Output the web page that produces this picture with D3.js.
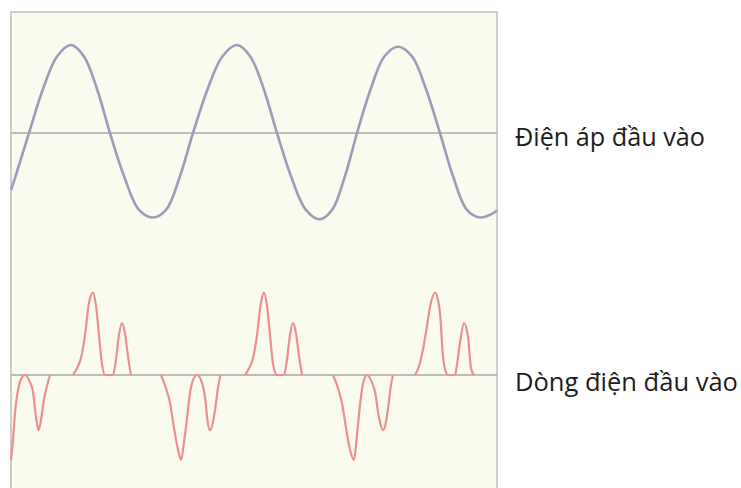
<!DOCTYPE html>
<html>
<head>
<meta charset="utf-8">
<script src="https://cdn.jsdelivr.net/npm/d3@7"></script>
<style>
  html, body { margin: 0; padding: 0; background: #ffffff; }
  svg { display: block; }
</style>
</head>
<body>
<svg id="chart" width="741" height="488"></svg>
<script>
// ---- Data (time in ms, values normalised) ----
const voltageTime = [0, 0.53, 2.22, 3.95, 5.68, 7.41, 9.01, 10.62, 12.22, 13.99, 15.77, 17.53,
  19.17, 20.83, 22.47, 24.28, 26.09, 27.90, 29.54, 31.20, 32.84, 34.60, 36.38, 38.15,
  39.67, 41.20, 42.72, 44.41, 46.09, 47.78, 49.51, 51.23, 52.96, 54.60, 56.26, 57.90, 59.14, 60.00];
const voltageValue = [-0.65, -0.5, 0, 0.5, 0.87, 1, 0.87, 0.5, 0, -0.5, -0.87, -0.96,
  -0.87, -0.5, 0, 0.5, 0.87, 1, 0.87, 0.5, 0, -0.5, -0.87, -0.98,
  -0.87, -0.5, 0, 0.5, 0.87, 0.98, 0.87, 0.5, 0, -0.5, -0.87, -0.96, -0.93, -0.88];

// current: null separates the individual pulses
const currentTime = [
  0, 0.25, 0.49, 0.86, 1.23, 1.73, 2.22, 2.72, 3.09, 3.40, 3.70, 4.07, 4.44, 4.81, null,
  7.65, 8.15, 8.64, 9.14, 9.63, 10.12, 10.49, 10.86, 11.23, 11.60, 12.59, 12.96, 13.33, 13.70, 14.07, 14.44, 14.81, null,
  18.52, 19.01, 19.63, 20.12, 20.62, 20.99, 21.36, 21.73, 22.10, 22.47, 22.96, 23.46, 23.95, 24.32, 24.57, 24.88, 25.19, 25.56, 25.86, null,
  28.89, 29.38, 29.88, 30.37, 30.86, 31.23, 31.60, 31.98, 32.35, 32.84, 33.70, 34.07, 34.44, 34.81, 35.19, 35.56, 35.93, null,
  39.75, 40.25, 40.86, 41.36, 41.85, 42.35, 42.72, 43.09, 43.46, 43.95, 44.44, 44.94, 45.43, 45.93, 46.30, 46.67, 46.91, 47.16, null,
  49.88, 50.37, 50.86, 51.36, 51.73, 52.35, 52.72, 52.96, 53.33, 53.70, 53.95, 54.81, 55.06, 55.43, 55.93, 56.42, 56.79, 57.16
];
const currentValue = [
  -1.0, -0.76, -0.45, -0.18, -0.05, 0, -0.06, -0.2, -0.5, -0.65, -0.53, -0.29, -0.13, 0, null,
  0, 0.08, 0.2, 0.47, 0.85, 0.97, 0.82, 0.47, 0.13, 0, 0, 0.18, 0.47, 0.61, 0.49, 0.22, 0, null,
  0, -0.12, -0.33, -0.62, -0.88, -1.0, -0.79, -0.51, -0.21, -0.06, 0, -0.06, -0.26, -0.58, -0.65, -0.58, -0.41, -0.15, 0, null,
  0, 0.08, 0.2, 0.47, 0.85, 0.97, 0.82, 0.47, 0.13, 0, 0, 0.18, 0.47, 0.61, 0.49, 0.22, 0, null,
  0, -0.12, -0.33, -0.62, -0.88, -1.0, -0.7, -0.35, -0.1, 0, -0.06, -0.2, -0.5, -0.65, -0.55, -0.3, -0.12, 0, null,
  0, 0.1, 0.3, 0.58, 0.8, 0.97, 0.88, 0.73, 0.22, 0.03, 0, 0, 0.12, 0.38, 0.61, 0.45, 0.08, 0
];

const seriesLabels = ["Điện áp đầu vào", "Dòng điện đầu vào"];

// ---- Drawing ----
const svg = d3.select("#chart");
const panel = { left: 11, top: 12, right: 497, bottom: 500 };

const x = d3.scaleLinear().domain([0, 60]).range([panel.left, panel.right]);
const yV = d3.scaleLinear().domain([-1, 1]).range([221, 45]);
const yI = d3.scaleLinear().domain([-1, 1]).range([460, 290]);

svg.append("rect")
  .attr("x", panel.left).attr("y", panel.top)
  .attr("width", panel.right - panel.left).attr("height", panel.bottom - panel.top)
  .attr("fill", "#fafbef").attr("stroke", "#bfbfbb").attr("stroke-width", 1.5);

// zero lines
[yV(0), yI(0)].forEach(yy => {
  svg.append("line")
    .attr("x1", x(0)).attr("x2", x(60))
    .attr("y1", yy).attr("y2", yy)
    .attr("stroke", "#a8a9a2").attr("stroke-width", 1.6);
});

const vData = voltageTime.map((t, i) => ({ t, v: voltageValue[i] }));
const iData = currentTime.map((t, i) => ({ t, v: currentValue[i] }));

svg.append("path")
  .datum(vData)
  .attr("fill", "none")
  .attr("stroke", "#9c9cbb")
  .attr("stroke-width", 2.6)
  .attr("d", d3.line().x(d => x(d.t)).y(d => yV(d.v)).curve(d3.curveCatmullRom.alpha(0.5)));

svg.append("path")
  .datum(iData)
  .attr("fill", "none")
  .attr("stroke", "#ef8e90")
  .attr("stroke-width", 2.2)
  .attr("d", d3.line().defined(d => d.t !== null && d.v !== null)
    .x(d => x(d.t)).y(d => yI(d.v)).curve(d3.curveMonotoneX));

// labels
const labelTargets = [190, 223];
[[yV(0) + 13, 0], [yI(0) + 16, 1]].forEach(([yy, i]) => {
  const txt = svg.append("text")
    .attr("x", 515).attr("y", yy)
    .attr("font-family", "'Open Sans', 'Noto Sans', sans-serif")
    .attr("font-size", 20)
    .attr("fill", "#1c1c1c")
    .text(seriesLabels[i]);
  const len = txt.node().getComputedTextLength();
  txt.attr("font-size", 20 * labelTargets[i] / len);
});
</script>
</body>
</html>
